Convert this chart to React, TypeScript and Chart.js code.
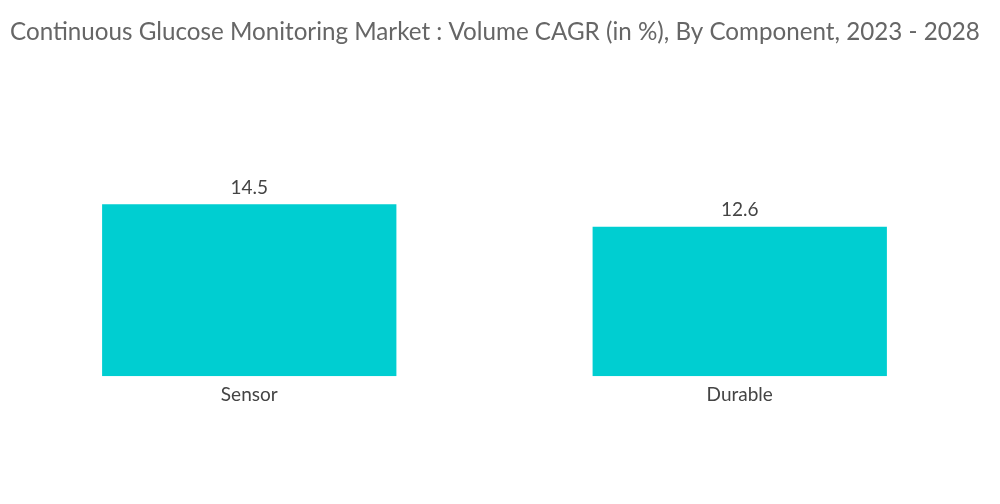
import React, { useEffect, useRef } from "react";
import { Chart, registerables } from "chart.js";

Chart.register(...registerables);

const TITLE = "Continuous Glucose Monitoring Market : Volume CAGR (in %), By Component, 2023 - 2028";
const categories = ["Sensor", "Durable"];
const values = [14.5, 12.6];
const BAR_COLOR = "#00CED1";
const FONT = "Lato, 'Open Sans', sans-serif";

const titleAndLabels = {
  id: "titleAndLabels",
  afterDraw(chart: any) {
    const ctx = chart.ctx;
    ctx.save();
    ctx.font = "24.2px " + FONT;
    ctx.fillStyle = "#666666";
    ctx.textAlign = "left";
    ctx.textBaseline = "middle";
    ctx.fillText(TITLE, 10, 32);
    ctx.restore();
  },
  afterDatasetsDraw(chart: any) {
    const ctx = chart.ctx;
    const meta = chart.getDatasetMeta(0);
    ctx.save();
    ctx.font = "19px " + FONT;
    ctx.fillStyle = "#444444";
    ctx.textAlign = "center";
    ctx.textBaseline = "bottom";
    meta.data.forEach((bar: any, i: number) => {
      ctx.fillText(String(values[i]), bar.x, bar.y - 7);
    });
    ctx.restore();
  },
};

export default function App() {
  const ref = useRef<HTMLCanvasElement>(null);
  useEffect(() => {
    document.body.style.margin = "0";
    const chart = new Chart(ref.current!, {
      type: "bar",
      data: {
        labels: categories,
        datasets: [
          {
            data: values,
            backgroundColor: BAR_COLOR,
            barPercentage: 0.6,
            categoryPercentage: 1,
          },
        ],
      },
      options: {
        animation: false,
        responsive: true,
        maintainAspectRatio: false,
        layout: { padding: { left: 4, right: 15, top: 139, bottom: 99 } },
        plugins: {
          legend: { display: false },
          tooltip: { enabled: false },
          title: { display: false },
        },
        scales: {
          x: {
            grid: { display: false },
            border: { display: false },
            ticks: {
              color: "#444444",
              font: { family: FONT, size: 19 },
              padding: -1,
            },
          },
          y: {
            display: false,
            min: 0,
            max: 20,
          },
        },
      },
      plugins: [titleAndLabels],
    });
    return () => chart.destroy();
  }, []);
  return (
    <div style={{ width: 1000, height: 504, position: "relative" }}>
      <canvas ref={ref} />
    </div>
  );
}
